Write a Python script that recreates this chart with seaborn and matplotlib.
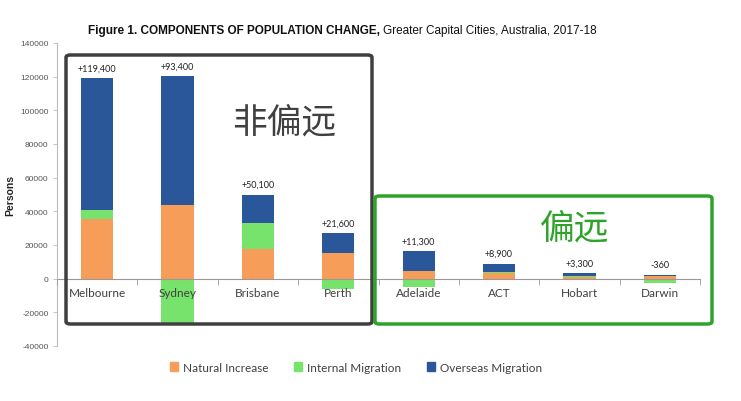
import matplotlib
matplotlib.use("Agg")
import matplotlib.pyplot as plt
from matplotlib.patches import FancyBboxPatch, Patch
import seaborn as sns
import pandas as pd
import numpy as np

cities = ["Melbourne", "Sydney", "Brisbane", "Perth", "Adelaide", "ACT", "Hobart", "Darwin"]
natural = [35600, 43500, 17400, 15400, 4700, 3600, 700, 1700]
internal = [5400, -26500, 15800, -5900, -4900, 300, 900, -2700]
overseas = [78100, 77000, 16700, 11500, 11500, 5000, 1700, 640]
total_labels = ["+119,400", "+93,400", "+50,100", "+21,600", "+11,300", "+8,900", "+3,300", "-360"]
yticks = [-40000, -20000, 0, 20000, 40000, 60000, 80000, 100000, 120000, 140000]

c_nat = "#F79D5A"
c_int = "#77E36C"
c_ovs = "#2A569A"

sns.set_theme(style="white")
plt.rcParams["font.family"] = ["Lato", "DejaVu Sans"]

nat = np.array(natural, float)
intl = np.array(internal, float)
ovs = np.array(overseas, float)
pos_int = np.where(intl > 0, intl, 0)
blue_h = nat + pos_int + ovs
green_h = np.where(intl > 0, nat + intl, intl)

df = pd.DataFrame({"city": cities, "blue": blue_h, "green": green_h, "orange": nat})

fig = plt.figure(figsize=(7.41, 4.02), dpi=100)
ax = fig.add_axes([57/741, 1-347/402, (700-57)/741, (347-44)/402])

for col, c in [("blue", c_ovs), ("green", c_int), ("orange", c_nat)]:
    sns.barplot(data=df, x="city", y=col, color=c, width=0.4, ax=ax,
                saturation=1, edgecolor="none", linewidth=0, zorder=2)

ax.set_axisbelow(False)
ax.set_xlim(-0.5, 7.5)
ax.set_ylim(-40000, 140000)
ax.set_yticks(yticks)
ax.set_yticklabels([str(v) for v in yticks], fontsize=6, color="#555555",
                   family=["Liberation Sans", "DejaVu Sans"])
ax.set_xlabel("")
ax.set_ylabel("Persons", fontsize=7.5, fontweight="bold", color="#222222",
              family=["Liberation Sans", "DejaVu Sans"])
ax.yaxis.set_label_coords((15-57)/643, 0.5)

for s in ["top", "right"]:
    ax.spines[s].set_visible(False)
ax.spines["left"].set_color("#bbbbbb")
ax.spines["left"].set_linewidth(0.8)
ax.spines["bottom"].set_position(("data", 0))
ax.spines["bottom"].set_color("#999999")
ax.spines["bottom"].set_linewidth(0.8)
ax.tick_params(axis="y", which="major", left=True, length=3, width=0.6, color="#bbbbbb", pad=3)
ax.tick_params(axis="x", which="major", bottom=False, length=0, pad=6, labelsize=8.5, labelcolor="#404040")
ax.set_xticks(np.arange(-0.5, 8, 1), minor=True)
ax.tick_params(axis="x", which="minor", bottom=True, length=4, width=0.6, color="#999999")

for i, lab in enumerate(total_labels):
    top = max(blue_h[i], 0)
    ax.annotate(lab, (i, top), xytext=(0, 4), textcoords="offset points",
                ha="center", va="bottom", fontsize=6.5, color="#222222", zorder=5)

# boxes (figure coordinates)
box1 = FancyBboxPatch((66/741, 1-325/402), (372-66)/741, (325-56)/402,
                      boxstyle="round,pad=0,rounding_size=0.006", transform=fig.transFigure,
                      fill=False, edgecolor="#3f3f3f", linewidth=2.5, zorder=10)
box2 = FancyBboxPatch((375/741, 1-325/402), (712-375)/741, (325-197)/402,
                      boxstyle="round,pad=0,rounding_size=0.006", transform=fig.transFigure,
                      fill=False, edgecolor="#2ea32a", linewidth=2.5, zorder=10)
fig.patches.extend([box1, box2])

fig.text(284/741, 1-123/402, "非偏远", fontsize=25, color="#404040", ha="center", va="center",
         family=["Noto Sans CJK SC", "DejaVu Sans"])
fig.text(575/741, 1-229/402, "偏远", fontsize=25, color="#2ea32a", ha="center", va="center",
         family=["Noto Sans CJK SC", "DejaVu Sans"])

# title
t1 = fig.text(88/741, 1-31/402, "Figure 1. COMPONENTS OF POPULATION CHANGE,", fontsize=8.5,
              fontweight="bold", color="#111111", ha="left", va="center",
              family=["Liberation Sans", "DejaVu Sans"])
fig.canvas.draw()
bb = t1.get_window_extent()
fig.text((bb.x1 + 3)/741, 1-31/402, "Greater Capital Cities, Australia, 2017-18", fontsize=8.5,
         color="#111111", ha="left", va="center", family=["Liberation Sans", "DejaVu Sans"])

handles = [Patch(color=c_nat, label="Natural Increase"),
           Patch(color=c_int, label="Internal Migration"),
           Patch(color=c_ovs, label="Overseas Migration")]
fig.legend(handles=handles, loc="center", bbox_to_anchor=(356/741, 1-368/402), ncol=3,
           frameon=False, fontsize=8.5, handlelength=0.7, handleheight=0.7,
           handletextpad=0.4, columnspacing=2.2, labelcolor="#404040")

fig.savefig("out.png", dpi=100)
